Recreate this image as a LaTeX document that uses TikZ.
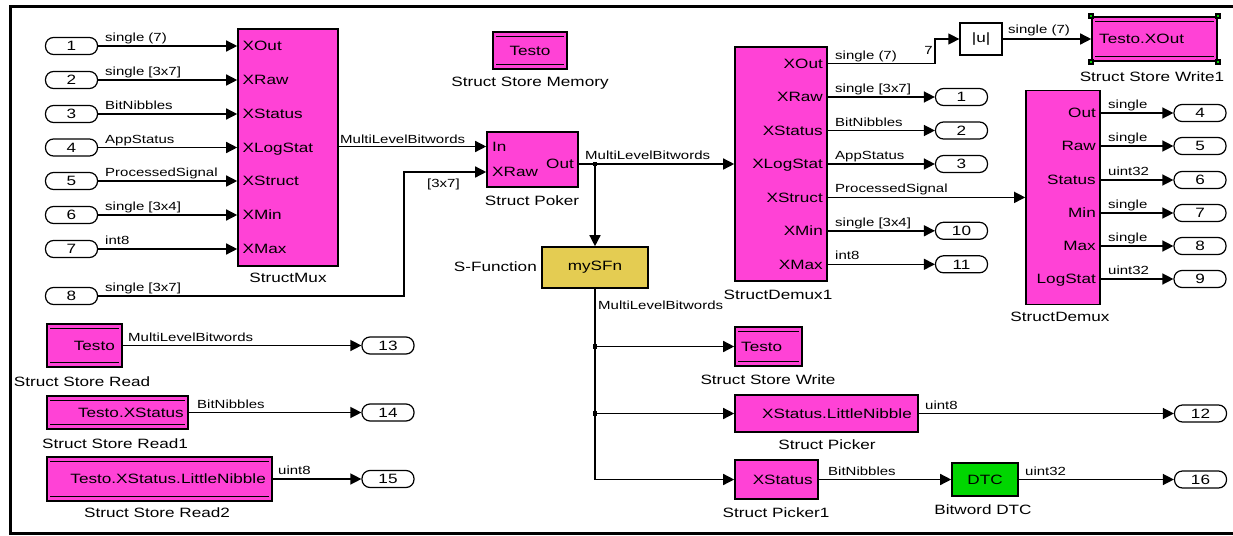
\documentclass[tikz,border=0pt]{standalone}
\usepackage{fontspec}
\setmainfont[FakeStretch=1.27]{Liberation Sans}
\usetikzlibrary{arrows.meta,calc}
\definecolor{simmag}{RGB}{255,66,214}
\definecolor{simyel}{RGB}{228,204,82}
\definecolor{simgrn}{RGB}{0,214,0}
\newcommand{\bfsz}{\fontsize{13.5}{15}\selectfont}
\newcommand{\lfsz}{\fontsize{11.8}{13}\selectfont}
\newcommand{\stlines}[1]{\draw[line width=1.3pt] ($(#1.north west)+(4,5)$) -- ($(#1.north east)+(-4,5)$) ($(#1.south west)+(4,-5)$) -- ($(#1.south east)+(-4,-5)$);}
\tikzset{
  blk/.style={draw, line width=1.6pt, fill=simmag, inner sep=0pt, font=\bfsz},
  oport/.style={draw, line width=1.2pt, rounded corners=8pt, minimum width=52pt, minimum height=17pt, inner sep=0pt, fill=white, font=\bfsz, text height=9.6pt, text depth=0pt},
  plab/.style={inner sep=0pt, font=\bfsz, text height=9.6pt, text depth=0pt},
  blab/.style={inner sep=0pt, font=\bfsz},
  wlab/.style={inner sep=0pt, font=\lfsz, anchor=base west},
  wire/.style={line width=1.4pt, -{Triangle[length=11pt,width=11pt]}},
  pwire/.style={line width=1.4pt},
  jdot/.style={fill, inner sep=0pt, minimum size=4.5pt, rectangle}
}
\begin{document}
\begin{tikzpicture}[x=1pt,y=-1pt]
\useasboundingbox (0,0) rectangle (1233,535);
\draw[line width=3pt] (1233,6.7) -- (10.5,6.7) -- (10.5,533) -- (1233,533);

% ---------- StructMux ----------
\node[blk, minimum width=100pt, minimum height=237pt] (mux) at (288,147.5) {};
\node[blab] (muxlab) at (288,278) {StructMux};
\foreach \i/\yy/\t/\p in {1/46/single (7)/XOut, 2/80/single [3x7]/XRaw, 3/114/BitNibbles/XStatus, 4/147.5/AppStatus/XLogStat, 5/181/ProcessedSignal/XStruct, 6/215/single [3x4]/XMin, 7/249/int8/XMax}{
  \node[oport] (in\i) at (71.5,\yy) {\i};
  \node[plab, anchor=west] (mp\i) at (242.5,\yy) {\p};
  \draw[wire] (in\i.east) -- (in\i.east -| mux.west);
  \node[wlab] (wl\i) at (105,\yy-4.5) {\t};
}
\node[oport] (in8) at (71.5,296) {8};
\node[wlab] (wl8) at (105,291.5) {single [3x7]};

% ---------- Struct Store Memory ----------
\node[blk, minimum width=74pt, minimum height=37pt] (mem) at (530,50.5) {Testo};
\stlines{mem}
\node[blab] (memlab) at (530,83) {Struct Store Memory};

% ---------- Struct Poker ----------
\node[blk, minimum width=91pt, minimum height=55pt] (pok) at (532.5,159.5) {};
\node[plab, anchor=west] (pokin) at (492,146.5) {In};
\node[plab, anchor=west] (pokxr) at (492,172) {XRaw};
\node[plab, anchor=east] (pokout) at (574,164) {Out};
\node[blab] (poklab) at (532,201) {Struct Poker};
\draw[wire] (mux.east |- pokin) -- (pok.west |- pokin);
\node[wlab] (wlm) at (340,143) {MultiLevelBitwords};
\coordinate (k8) at (404,172);
\draw[wire] (in8.east) -| (k8) -- (k8 -| pok.west);
\node[inner sep=0pt, font=\lfsz, anchor=west] (wl3x7) at (427,184) {[3x7]};

% ---------- StructDemux1 ----------
\node[blk, minimum width=92pt, minimum height=234pt] (dm1) at (781,164) {};
\node[blab] (dm1lab) at (778,295) {StructDemux1};
\coordinate (b1) at (595,164);
\draw[wire] (pok.east |- b1) -- (dm1.west |- b1);
\node[jdot] (d1) at (b1) {};
\node[wlab] (wlp) at (585,159.5) {MultiLevelBitwords};

\foreach \yy/\p in {63.7/XOut, 97/XRaw, 130.5/XStatus, 164/XLogStat, 197.4/XStruct, 230.8/XMin, 264.3/XMax}{
  \node[plab, anchor=east] at (823,\yy) {\p};
}
\foreach \n/\yy/\t in {1/97/single [3x7], 2/130.5/BitNibbles, 3/164/AppStatus, 10/230.8/single [3x4], 11/264.3/int8}{
  \node[oport] (o\n) at (961.5,\yy) {\n};
  \draw[wire] (dm1.east |- o\n) -- (o\n.west);
  \node[wlab] (wlo\n) at (835,\yy-4.5) {\t};
}

% XOut -> |u| -> Struct Store Write1
\node[draw, line width=1.3pt, fill=white, minimum width=42pt, minimum height=32pt, inner sep=0pt, font=\bfsz] (absu) at (981,39) {|u|};
\coordinate (k7) at (935,39);
\coordinate (x7) at (827,63.7);
\draw[wire] (x7) -| (k7) -- (absu.west);
\node[wlab] (wlx) at (835,59.2) {single (7)};
\node[inner sep=0pt, font=\lfsz, anchor=east] (w7) at (933,50) {7};
\node[blk, minimum width=125pt, minimum height=44pt] (ssw1) at (1154.5,39) {};
\stlines{ssw1}
\node[plab, anchor=west] (ssw1t) at (1099,39) {Testo.XOut};
\draw[wire] (absu.east) -- (ssw1.west);
\node[wlab] (wla) at (1008,34) {single (7)};
\node[blab] (ssw1lab) at (1152,77) {Struct Store Write1};
\foreach \c in {north west, north east, south west, south east}{
  \fill[black] ($(ssw1.\c)+(-3,-3)$) rectangle ($(ssw1.\c)+(3,3)$);
  \fill[simgrn] ($(ssw1.\c)+(-1,-1)$) rectangle ($(ssw1.\c)+(1,1)$);
}

% ---------- StructDemux ----------
\node[blk, minimum width=74pt, minimum height=214pt] (dmx) at (1063,197.4) {};
\node[blab] (dmxlab) at (1060,317) {StructDemux};
\draw[wire] (dm1.east |- dmx.west) -- (dmx.west);
\node[wlab] (wls) at (835,192.9) {ProcessedSignal};
\foreach \n/\yy/\p/\t in {4/113/Out/single, 5/146/Raw/single, 6/180/Status/uint32, 7/213/Min/single, 8/246/Max/single, 9/279/LogStat/uint32}{
  \node[plab, anchor=east] at (1096,\yy) {\p};
  \node[oport] (o\n) at (1200,\yy) {\n};
  \draw[wire] (dmx.east |- o\n) -- (o\n.west);
  \node[wlab] (wlo\n) at (1108,\yy-4.5) {\t};
}

% ---------- mySFn ----------
\node[draw, line width=1.6pt, fill=simyel, minimum width=106pt, minimum height=41pt, inner sep=0pt, font=\bfsz] (sfn) at (595,267.5) {mySFn};
\node[blab, anchor=east] (sfnlab) at (537,267) {S-Function};
\draw[wire] (b1) -- (sfn.north);
\node[inner sep=0pt, font=\lfsz, anchor=west] (wlsf) at (598,305) {MultiLevelBitwords};

% Struct Store Write
\node[blk, minimum width=67pt, minimum height=39pt] (ssw) at (768.5,346.5) {};
\stlines{ssw}
\node[plab, anchor=west] (sswt) at (741,346.5) {Testo};
\node[blab] (sswlab) at (768,380) {Struct Store Write};
% Struct Picker
\node[blk, minimum width=183pt, minimum height=37pt] (pk) at (826.5,413.5) {};
\node[plab, anchor=east] (pkt) at (912,413.5) {XStatus.LittleNibble};
\node[blab] (pklab) at (827,445) {Struct Picker};
% Struct Picker1
\node[blk, minimum width=83pt, minimum height=39pt] (pk1) at (776.5,479.5) {};
\node[plab, anchor=east] (pk1t) at (813,479.5) {XStatus};
\node[blab] (pk1lab) at (776,513) {Struct Picker1};
% DTC
\node[draw, line width=1.6pt, fill=simgrn, minimum width=66pt, minimum height=33pt, inner sep=0pt, font=\bfsz] (dtc) at (985,479.5) {DTC};
\node[blab] (dtclab) at (983,510) {Bitword DTC};

\coordinate (b2) at (595,346.5);
\coordinate (b3) at (595,413.5);
\draw[wire] (sfn.south) |- (pk1.west);
\draw[wire] (b2) -- (ssw.west);
\draw[wire] (b3) -- (pk.west);
\node[jdot] (d2) at (b2) {};
\node[jdot] (d3) at (b3) {};

\node[oport] (o12) at (1200.5,413.5) {12};
\draw[wire] (pk.east) -- (o12.west);
\node[wlab] (wl12) at (925,409) {uint8};
\draw[wire] (pk1.east) -- (dtc.west);
\node[wlab] (wlbn) at (828,475) {BitNibbles};
\node[oport] (o16) at (1200.5,479.5) {16};
\draw[wire] (dtc.east) -- (o16.west);
\node[wlab] (wl16) at (1025,475) {uint32};

% ---------- Struct Store Reads ----------
\node[blk, minimum width=75pt, minimum height=43pt] (ssr) at (84.5,345.5) {};
\stlines{ssr}
\node[plab, anchor=east] (ssrt) at (115,345.5) {Testo};
\node[blab] (ssrlab) at (82,382) {Struct Store Read};
\node[oport] (o13) at (388,345.5) {13};
\draw[wire] (ssr.east) -- (o13.west);
\node[wlab] (wl13) at (128,341) {MultiLevelBitwords};

\node[blk, minimum width=141pt, minimum height=33pt] (ssr1) at (117.5,412.5) {};
\stlines{ssr1}
\node[plab, anchor=east] (ssr1t) at (184,412.5) {Testo.XStatus};
\node[blab] (ssr1lab) at (115,444) {Struct Store Read1};
\node[oport] (o14) at (388,412.5) {14};
\draw[wire] (ssr1.east) -- (o14.west);
\node[wlab] (wl14) at (197,408) {BitNibbles};

\node[blk, minimum width=225pt, minimum height=44pt] (ssr2) at (159.5,479) {};
\stlines{ssr2}
\node[plab, anchor=east] (ssr2t) at (266,479) {Testo.XStatus.LittleNibble};
\node[blab] (ssr2lab) at (157,513) {Struct Store Read2};
\node[oport] (o15) at (388,479) {15};
\draw[wire] (ssr2.east) -- (o15.west);
\node[wlab] (wl15) at (278,474.5) {uint8};
\end{tikzpicture}
\end{document}
